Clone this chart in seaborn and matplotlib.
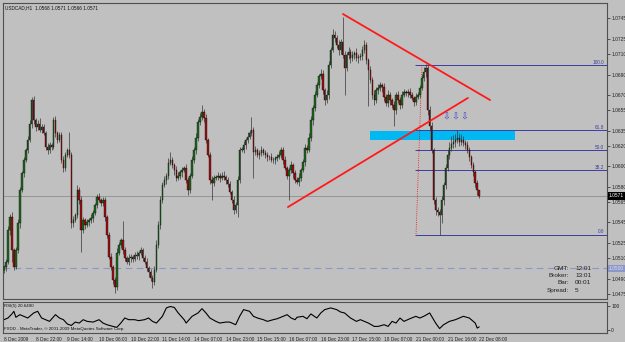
import matplotlib
matplotlib.use("Agg")
import matplotlib.pyplot as plt
import matplotlib.patches as mpatches
import numpy as np
import pandas as pd
import seaborn as sns

# ---------------- data ----------------
closes = [
    1.0501, 1.0506, 1.0538, 1.0550, 1.0518, 1.0501, 1.0518, 1.0544, 1.0577, 1.0593,
    1.0606, 1.0616, 1.0626, 1.0642, 1.0665, 1.0645, 1.0639, 1.0642, 1.0636, 1.0639,
    1.0633, 1.0619, 1.0616, 1.0621, 1.0619, 1.0645, 1.0633, 1.0626, 1.0631, 1.0606,
    1.0598, 1.0611, 1.0616, 1.0611, 1.0544, 1.0547, 1.0552, 1.0577, 1.0567, 1.0538,
    1.0547, 1.0543, 1.0545, 1.0547, 1.0549, 1.0554, 1.0562, 1.0570, 1.0567, 1.0564,
    1.0567, 1.0550, 1.0533, 1.0511, 1.0501, 1.0489, 1.0482, 1.0515, 1.0523, 1.0528,
    1.0518, 1.0510, 1.0506, 1.0510, 1.0511, 1.0509, 1.0513, 1.0512, 1.0515, 1.0518,
    1.0510, 1.0506, 1.0500, 1.0496, 1.0491, 1.0487, 1.0498, 1.0523, 1.0543, 1.0567,
    1.0582, 1.0587, 1.0591, 1.0603, 1.0606, 1.0601, 1.0596, 1.0589, 1.0591, 1.0594,
    1.0596, 1.0598, 1.0587, 1.0577, 1.0591, 1.0606, 1.0616, 1.0628, 1.0643, 1.0648,
    1.0653, 1.0647, 1.0626, 1.0611, 1.0587, 1.0584, 1.0589, 1.0590, 1.0591, 1.0589,
    1.0591, 1.0590, 1.0587, 1.0583, 1.0575, 1.0567, 1.0557, 1.0562, 1.0587, 1.0616,
    1.0616, 1.0621, 1.0626, 1.0629, 1.0633, 1.0636, 1.0614, 1.0616, 1.0611, 1.0613,
    1.0616, 1.0613, 1.0611, 1.0609, 1.0609, 1.0606, 1.0606, 1.0608, 1.0609, 1.0611,
    1.0616, 1.0606, 1.0598, 1.0591, 1.0596, 1.0601, 1.0593, 1.0587, 1.0585, 1.0589,
    1.0596, 1.0604, 1.0618, 1.0616, 1.0628, 1.0645, 1.0657, 1.0670, 1.0680, 1.0689,
    1.0691, 1.0675, 1.0665, 1.0670, 1.0699, 1.0714, 1.0729, 1.0726, 1.0719, 1.0714,
    1.0722, 1.0709, 1.0696, 1.0709, 1.0712, 1.0706, 1.0709, 1.0711, 1.0706, 1.0707,
    1.0708, 1.0714, 1.0719, 1.0704, 1.0694, 1.0685, 1.0670, 1.0665, 1.0675, 1.0677,
    1.0680, 1.0678, 1.0668, 1.0662, 1.0670, 1.0665, 1.0660, 1.0655, 1.0670, 1.0665,
    1.0660, 1.0670, 1.0673, 1.0672, 1.0673, 1.0670, 1.0667, 1.0663, 1.0668, 1.0670,
    1.0677, 1.0687, 1.0692, 1.0696, 1.0655, 1.0640, 1.0616, 1.0567, 1.0557, 1.0555,
    1.0552, 1.0567, 1.0582, 1.0598, 1.0611, 1.0618, 1.0622, 1.0624, 1.0626, 1.0628,
    1.0624, 1.0626, 1.0623, 1.0621, 1.0616, 1.0609, 1.0601, 1.0594, 1.0584, 1.0577,
    1.0571,
]
first_open = 1.0498

# wick lengths in pips above / below the candle body
up_wick = [
    2, 3, 4, 3, 5, 2, 3, 4, 3, 2, 3, 2, 4, 3, 3, 4, 2, 3, 5, 3,
    3, 2, 4, 3, 2, 3, 4, 2, 3, 3, 4, 3, 2, 18, 3, 4, 2, 5, 3, 4,
    3, 2, 3, 2, 4, 3, 2, 3, 4, 2, 3, 3, 2, 3, 4, 2, 3, 5, 3, 2,
    18, 3, 2, 4, 3, 2, 3, 4, 2, 3, 2, 3, 4, 2, 3, 3, 4, 5, 3, 4,
    3, 4, 2, 5, 8, 3, 2, 4, 3, 2, 3, 2, 4, 3, 2, 4, 3, 5, 3, 4,
    7, 3, 4, 2, 3, 4, 3, 2, 3, 2, 3, 4, 2, 3, 3, 2, 4, 3, 4, 3,
    3, 4, 2, 5, 3, 12, 3, 4, 2, 3, 4, 2, 3, 3, 2, 4, 3, 2, 3, 4,
    3, 3, 4, 2, 3, 4, 2, 3, 3, 4, 2, 3, 4, 3, 5, 4, 3, 4, 3, 2,
    4, 3, 2, 5, 4, 3, 6, 4, 3, 5, 3, 24, 4, 3, 5, 3, 4, 2, 5, 3,
    3, 4, 5, 3, 2, 4, 3, 5, 3, 4, 3, 2, 4, 3, 5, 3, 2, 4, 3, 4,
    3, 4, 3, 2, 3, 4, 3, 2, 4, 3, 3, 4, 5, 4, 3, 4, 3, 2, 3, 3,
    3, 4, 3, 4, 5, 6, 8, 7, 6, 8, 5, 6, 4, 3, 4, 3, 2, 3, 2, 3, 0,
]
dn_wick = [
    3, 4, 2, 5, 12, 3, 2, 3, 4, 2, 3, 2, 3, 2, 4, 3, 4, 3, 2, 3,
    2, 3, 4, 3, 3, 2, 4, 3, 2, 3, 4, 3, 2, 3, 4, 3, 2, 3, 4, 22,
    3, 4, 2, 3, 3, 4, 2, 3, 2, 3, 3, 4, 3, 2, 3, 4, 6, 3, 2, 3,
    4, 3, 2, 3, 4, 3, 2, 3, 4, 2, 3, 2, 3, 4, 3, 6, 3, 2, 3, 4,
    3, 2, 4, 3, 2, 3, 4, 3, 2, 3, 4, 2, 3, 5, 3, 2, 3, 4, 3, 2,
    3, 4, 3, 2, 4, 17, 3, 2, 3, 4, 2, 3, 4, 3, 2, 3, 4, 3, 12, 3,
    2, 3, 4, 3, 2, 3, 25, 3, 2, 4, 3, 2, 3, 4, 3, 2, 3, 4, 3, 2,
    3, 4, 2, 3, 24, 3, 4, 3, 2, 4, 3, 2, 4, 3, 2, 3, 4, 3, 2, 3,
    3, 4, 5, 3, 4, 3, 2, 4, 3, 5, 4, 3, 26, 3, 4, 5, 3, 4, 3, 5,
    3, 4, 3, 4, 35, 3, 4, 5, 3, 4, 3, 5, 4, 3, 4, 5, 3, 15, 4, 3,
    4, 3, 2, 3, 4, 3, 2, 4, 3, 2, 3, 2, 3, 4, 5, 4, 3, 4, 5, 4,
    19, 8, 5, 4, 3, 4, 3, 4, 5, 3, 4, 3, 3, 4, 3, 4, 3, 3, 4, 5, 2,
]

rsi_bars = [0, 2, 4, 5, 6, 8, 10, 12, 15, 17, 19, 21, 23, 26, 28, 30, 32, 34, 36, 38,
            40, 42, 45, 48, 50, 52, 55, 57, 59, 61, 63, 66, 68, 71, 73, 75, 77, 80, 82, 84,
            86, 88, 91, 92, 95, 98, 100, 102, 104, 107, 109, 112, 114, 117, 119, 121, 124, 126, 128, 131,
            133, 136, 138, 141, 143, 145, 147, 148, 151, 153, 155, 158, 160, 162, 165, 168, 170, 172, 175, 178,
            180, 182, 184, 187, 189, 192, 194, 196, 198, 200, 202, 205, 208, 210, 212, 215, 218, 220, 222, 225,
            228, 230, 232, 235, 238, 239, 240]
rsi_vals = [43, 50, 67, 78, 53, 64, 57, 50, 71, 78, 50, 43, 36, 64, 50, 43, 25, 19, 33, 29,
            43, 36, 33, 43, 29, 22, 15, 11, 29, 50, 43, 43, 39, 43, 50, 36, 29, 57, 92, 98,
            94, 71, 43, 29, 57, 71, 89, 71, 50, 36, 29, 33, 33, 22, 57, 85, 78, 57, 50, 43,
            36, 43, 47, 57, 64, 50, 43, 53, 57, 47, 67, 50, 71, 85, 92, 85, 75, 71, 50, 36,
            43, 36, 29, 15, 15, 22, 15, 36, 29, 50, 36, 47, 57, 50, 57, 71, 29, 6, 22, 36,
            43, 50, 57, 50, 29, 8, 13]

date_labels = ["8 Dec 2009", "8 Dec 22:00", "9 Dec 14:00", "10 Dec 06:00", "10 Dec 22:00",
               "11 Dec 14:00", "14 Dec 07:00", "14 Dec 23:00", "15 Dec 15:00", "16 Dec 07:00",
               "16 Dec 23:00", "17 Dec 15:00", "18 Dec 07:00", "21 Dec 00:00", "21 Dec 16:00",
               "22 Dec 08:00"]
price_ticks = [1.0745, 1.0725, 1.0710, 1.0690, 1.0670, 1.0655, 1.0635, 1.0620, 1.0600,
               1.0580, 1.0565, 1.0545, 1.0525, 1.0510, 1.0490, 1.0475]

last_price = 1.0571
ref_level = 1.0500
fib_high, fib_low = 1.0699, 1.0533
fib_ratios = [0.0, 0.382, 0.5, 0.618, 1.0]
fib_names = ["0.0", "38.2", "50.0", "61.8", "100.0"]
fib_start_bar = 207.6
fib_base = ([211.1, 208.1], [fib_high, fib_low])
tri_upper = ([171.2, 245.5], [1.07493, 1.06650])
tri_lower = ([143.4, 234.3], [1.05601, 1.06670])
zone_bars = (184.9, 258.1)
zone_prices = (1.06258, 1.06346)
arrow_bars = [223.4, 228.0, 232.6]
arrow_price = 1.06483

# ---------------- build OHLC ----------------
opens = [first_open] + closes[:-1]
df = pd.DataFrame({"bar": np.arange(len(closes)), "open": opens, "close": closes})
df["high"] = df[["open", "close"]].max(axis=1) + np.array(up_wick) * 1e-4
df["low"] = df[["open", "close"]].min(axis=1) - np.array(dn_wick) * 1e-4
df["bull"] = df["close"] >= df["open"]

# ---------------- figure ----------------
BG = "#c0c0c0"
sns.set_style("white", rc={"axes.facecolor": BG, "figure.facecolor": BG,
                           "axes.edgecolor": "#505050"})
plt.rcParams["font.family"] = ["Liberation Sans", "DejaVu Sans"]

W, H = 625, 342
fig = plt.figure(figsize=(W / 100, H / 100), dpi=100)
fig.patch.set_facecolor(BG)

def box(x0, y0, x1, y1):
    return [x0 / W, 1 - y1 / H, (x1 - x0) / W, (y1 - y0) / H]

ax = fig.add_axes(box(3, 3, 607, 299))
ax2 = fig.add_axes(box(3, 302, 607, 333))
PXB = 1.98
xlim = (-0.5, -0.5 + 604 / PXB)
for a in (ax, ax2):
    a.set_facecolor(BG)
    a.set_xlim(*xlim)
    for s in a.spines.values():
        s.set_color("#505050")
        s.set_linewidth(0.8)

ax.set_ylim(1.0470, 1.07601)

# zone rectangle
ax.add_patch(mpatches.Rectangle((zone_bars[0], zone_prices[0]), zone_bars[1] - zone_bars[0],
                                zone_prices[1] - zone_prices[0], facecolor="#00b9f2",
                                edgecolor="none", zorder=1))

# horizontal lines
ax.axhline(last_price, color="#8e8e8e", lw=0.6, zorder=1)
ax.axhline(ref_level, color="#8c96c8", lw=0.8, ls=(0, (6, 4)), zorder=1)

# fibonacci
fib_color = "#3c3ca0"
for r, name in zip(fib_ratios, fib_names):
    lvl = fib_low + r * (fib_high - fib_low)
    ax.hlines(lvl, fib_start_bar, xlim[1], color=fib_color, lw=0.7, zorder=2)
    ax.text(xlim[1] - 1.5, lvl + 0.00003, name, ha="right", va="bottom",
            fontsize=3.4, color=fib_color, zorder=5)
ax.plot(*fib_base, color="red", lw=0.6, ls=":", zorder=2)

# candles
wick_col = "#353535"
ax.vlines(df["bar"], df["low"], df["high"], color=wick_col, lw=0.5, zorder=3)
body_bottom = df[["open", "close"]].min(axis=1)
body_h = (df["close"] - df["open"]).abs().clip(lower=0.00006)
colors = np.where(df["bull"], "#1f6b1f", "#a01212")
ax.bar(df["bar"], body_h, bottom=body_bottom, width=0.75, color=colors,
       edgecolor="black", linewidth=0.25, zorder=4)

# triangle lines
ax.plot(*tri_upper, color="#ff1a1a", lw=1.3, zorder=5)
ax.plot(*tri_lower, color="#ff1a1a", lw=1.3, zorder=5)

# arrows
for b in arrow_bars:
    ax.text(b, arrow_price, "\u21e9", ha="center", va="center", fontsize=6.8,
            color="#4646c4", family=["DejaVu Sans"], zorder=6)

# right price axis
ax.yaxis.tick_right()
ax.set_yticks(price_ticks)
ax.set_yticklabels([f"{p:.4f}" for p in price_ticks])
ax.tick_params(axis="y", length=2, width=0.5, pad=1, labelsize=3.5, colors="#202020")
ax.set_xticks([])
ytr = ax.get_yaxis_transform()
ax.text(1.003, last_price, f"{last_price:.4f}", transform=ytr, ha="left", va="center",
        fontsize=3.5, color="white", zorder=7, clip_on=False,
        bbox=dict(boxstyle="square,pad=0.25", fc="black", ec="none"))
ax.text(1.003, ref_level, f"{ref_level:.4f}", transform=ytr, ha="left", va="center",
        fontsize=3.5, color="#dde0f0", zorder=7, clip_on=False,
        bbox=dict(boxstyle="square,pad=0.25", fc="#8c96c8", ec="none"))

ax.text(0.003, 0.992, "USDCAD,H1  1.0568 1.0571 1.0566 1.0571", transform=ax.transAxes,
        ha="left", va="top", fontsize=3.4, color="#101010")

# info box
info_lbl = ["GMT:", "Broker:", "Bar:", "Spread:"]
info_val = ["12:01", "13:01", "00:01", "5"]
for k, (l, v) in enumerate(zip(info_lbl, info_val)):
    yy = 1 - (268 + k * 7.5) / H
    fig.text(569 / W, yy, l, ha="right", va="center", fontsize=4.6, color="#202020")
    fig.text(575 / W, yy, v, ha="left", va="center", fontsize=4.6, color="#202020")

# RSI panel
sns.lineplot(x=rsi_bars, y=rsi_vals, ax=ax2, color="black", lw=0.8)
ax2.set_ylim(-12.5, 116.7)
ax2.yaxis.tick_right()
ax2.set_yticks([0, 100])
ax2.set_yticklabels(["0", "100"])
ax2.tick_params(axis="y", length=2, width=0.5, pad=1, labelsize=3.5, colors="#202020")
ax2.set_xticks([k * 16 for k in range(len(date_labels))])
ax2.set_xticklabels(date_labels, ha="left")
ax2.tick_params(axis="x", length=2, width=0.5, pad=1, labelsize=3.4, colors="#202020")
ax2.set_xlabel("")
ax2.set_ylabel("")
ax2.text(0.002, 0.93, "RSI(5) 20.6490", transform=ax2.transAxes, ha="left", va="top",
         fontsize=3.2, color="#101010")
ax2.text(0.002, 0.05, "FXDD - MetaTrader, \u00a9 2001-2009 MetaQuotes Software Corp.",
         transform=ax2.transAxes, ha="left", va="bottom", fontsize=3.2, color="#101010")

fig.savefig("out.png", dpi=100, facecolor=BG)
